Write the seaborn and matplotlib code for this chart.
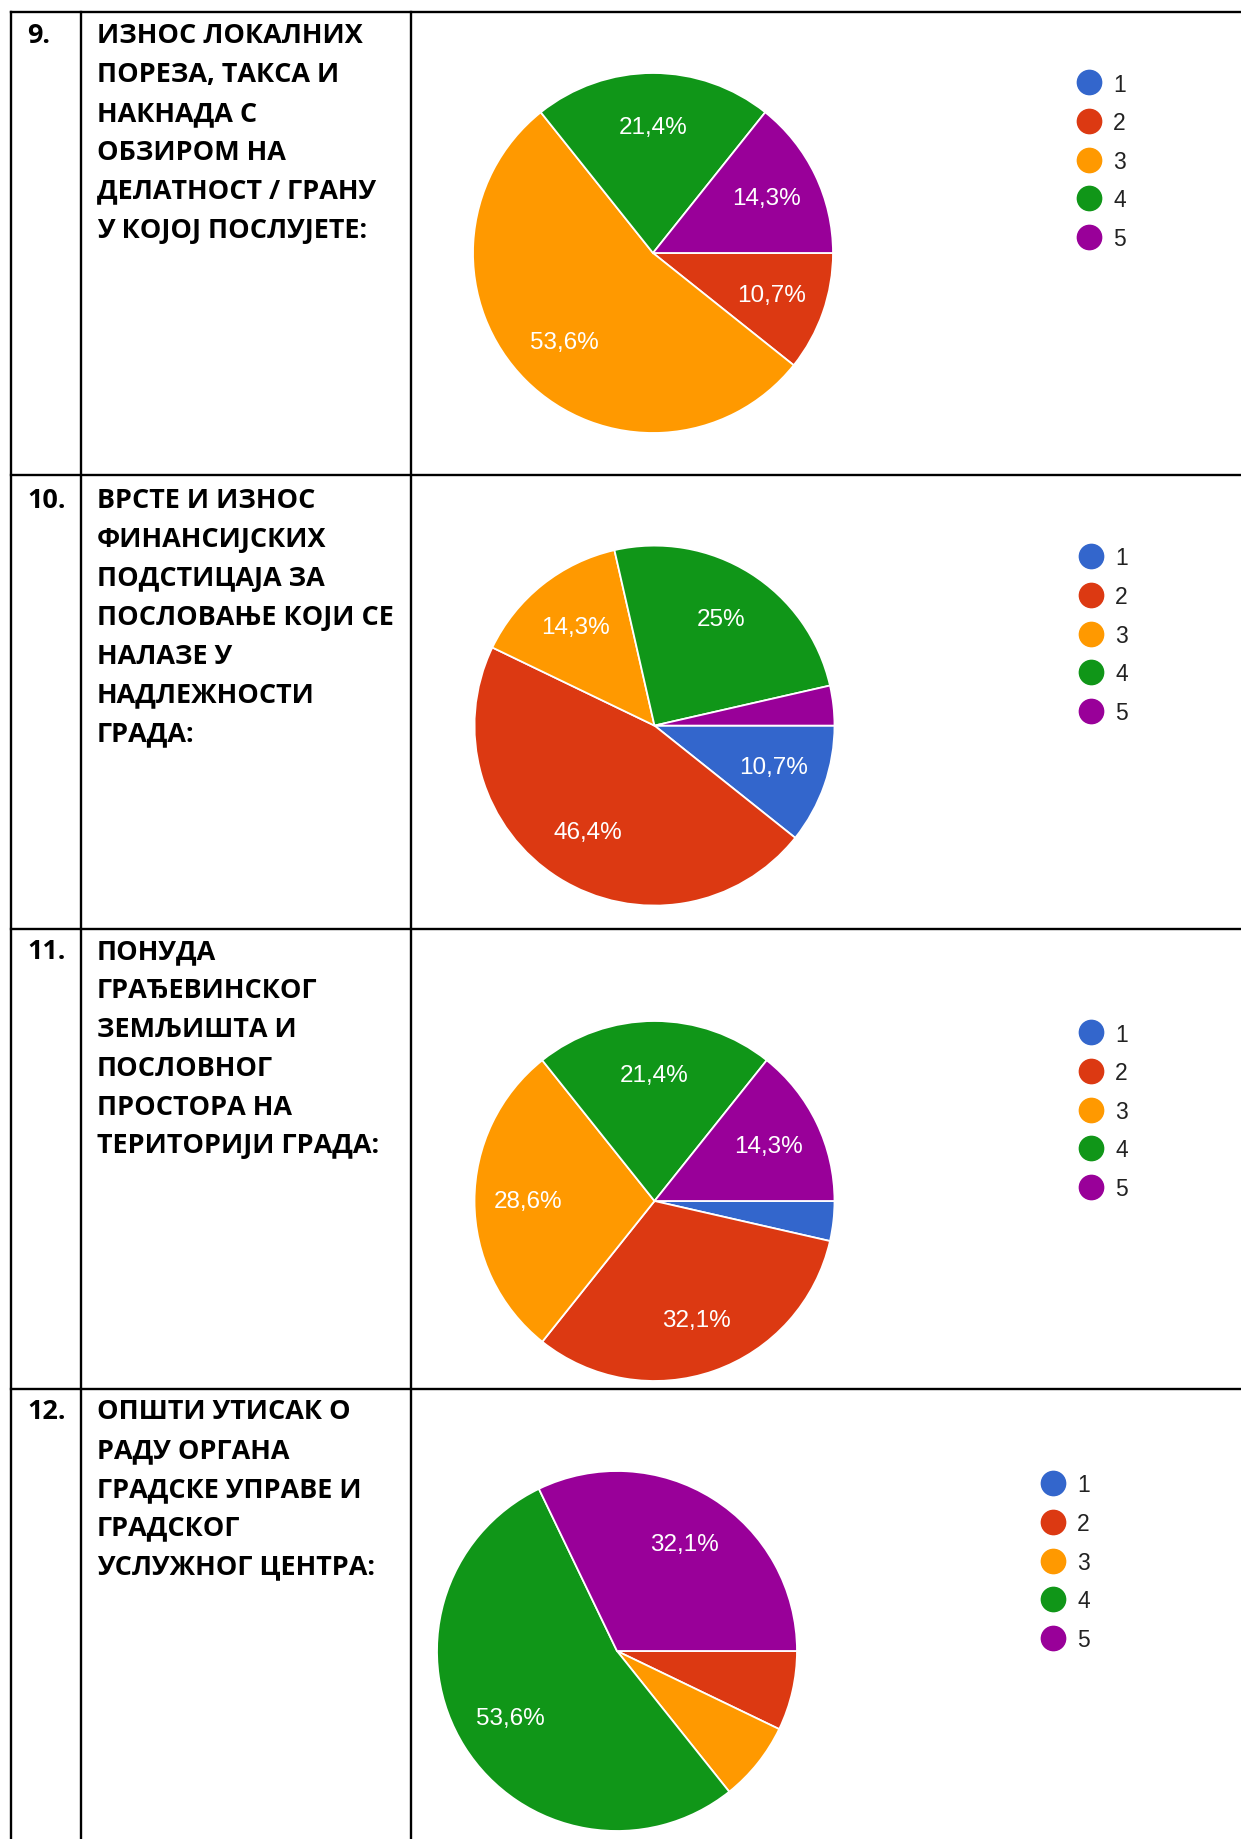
import matplotlib
matplotlib.use('Agg')
import matplotlib.pyplot as plt
import seaborn as sns
from matplotlib.lines import Line2D

# ---------------- data ----------------
categories = ['1', '2', '3', '4', '5']
palette = ['#3366CC', '#DC3912', '#FF9900', '#109618', '#990099']
respondents = 28

q9_counts = [0, 3, 15, 6, 4]
q10_counts = [3, 13, 4, 7, 1]
q11_counts = [1, 9, 8, 6, 4]
q12_counts = [0, 2, 2, 15, 9]

question_numbers = ['9.', '10.', '11.', '12.']
q9_text = ['ИЗНОС ЛОКАЛНИХ', 'ПОРЕЗА, ТАКСА И', 'НАКНАДА С', 'ОБЗИРОМ НА',
           'ДЕЛАТНОСТ / ГРАНУ', 'У КОЈОЈ ПОСЛУЈЕТЕ:']
q10_text = ['ВРСТЕ И ИЗНОС', 'ФИНАНСИЈСКИХ', 'ПОДСТИЦАЈА ЗА', 'ПОСЛОВАЊЕ КОЈИ СЕ',
            'НАЛАЗЕ У', 'НАДЛЕЖНОСТИ', 'ГРАДА:']
q11_text = ['ПОНУДА', 'ГРАЂЕВИНСКОГ', 'ЗЕМЉИШТА И', 'ПОСЛОВНОГ',
            'ПРОСТОРА НА', 'ТЕРИТОРИЈИ ГРАДА:']
q12_text = ['ОПШТИ УТИСАК О', 'РАДУ ОРГАНА', 'ГРАДСКЕ УПРАВЕ И', 'ГРАДСКОГ',
            'УСЛУЖНОГ ЦЕНТРА:']

# ---------------- layout ----------------
sns.set_theme(style='white')
plt.rcParams['font.family'] = ['Liberation Sans', 'DejaVu Sans']

W, H = 1241, 1840
fig = plt.figure(figsize=(W / 100, H / 100), dpi=100)
fig.patch.set_facecolor('white')
bg = fig.add_axes([0, 0, 1, 1])
bg.set_xlim(0, W)
bg.set_ylim(H, 0)
bg.axis('off')

row_tops = [13, 475.5, 929.5, 1390]
col_x = [11, 81, 411]
for y in row_tops:
    bg.plot([col_x[0], W], [y, y], color='black', lw=1.7, solid_capstyle='projecting')
for x in col_x:
    bg.plot([x, x], [row_tops[0], H + 5], color='black', lw=1.7, solid_capstyle='projecting')

qfont = dict(family=['Open Sans', 'DejaVu Sans'], weight='bold', color='black')
probe = bg.text(0, 0, 'ПОСЛОВАЊЕ КОЈИ СЕ', fontsize=20, **qfont)
fig.canvas.draw()
wpx = probe.get_window_extent(fig.canvas.get_renderer()).width
probe.remove()
qfs = 20 * 297.0 / wpx

texts = [q9_text, q10_text, q11_text, q12_text]
first_baselines = [43, 508, 959, 1419]
pitch = 38.9
for num, lines, yb in zip(question_numbers, texts, first_baselines):
    bg.text(27, yb, num, fontsize=qfs, va='baseline', ha='left', **qfont)
    for i, line in enumerate(lines):
        bg.text(97, yb + i * pitch, line, fontsize=qfs, va='baseline', ha='left', **qfont)


def fmt(p):
    if p < 10:
        return ''
    s = f'{p:.1f}'.rstrip('0').rstrip('.').replace('.', ',')
    return s + '%'


pie_centers = [(653, 254), (654.5, 726.6), (654.5, 1202), (617, 1652)]
legend_first = [(1089, 84), (1091, 558), (1091, 1034), (1053, 1485)]
all_counts = [q9_counts, q10_counts, q11_counts, q12_counts]
R = 180
leg_fs = 16.5
leg_fs_px = leg_fs * 100 / 72
handle_len = 25 / leg_fs_px

for counts, (cx, cy), (lx, ly) in zip(all_counts, pie_centers, legend_first):
    ax = fig.add_axes([(cx - R) / W, 1 - (cy + R) / H, 2 * R / W, 2 * R / H])
    ax.pie(counts, colors=palette, startangle=0, counterclock=False,
           autopct=fmt, pctdistance=0.7,
           wedgeprops=dict(edgecolor='white', linewidth=1.3),
           textprops=dict(color='white', fontsize=17.5, family=['Liberation Sans', 'DejaVu Sans']))
    ax.set_xlim(-1, 1)
    ax.set_ylim(-1, 1)
    ax.set_aspect('equal')
    ax.axis('off')

    handles = [Line2D([0], [0], marker='o', linestyle='', markersize=17.5,
                      markerfacecolor=c, markeredgecolor=c) for c in palette]
    fig.legend(handles, categories, loc='upper left',
               bbox_to_anchor=(lx - 12.5, ly - 10.5), bbox_transform=bg.transData,
               frameon=False, fontsize=leg_fs, labelcolor='#222222',
               handlelength=handle_len, handletextpad=11.5 / leg_fs_px, labelspacing=0.68,
               borderpad=0, borderaxespad=0)

fig.savefig('out.png', dpi=100, facecolor='white')
